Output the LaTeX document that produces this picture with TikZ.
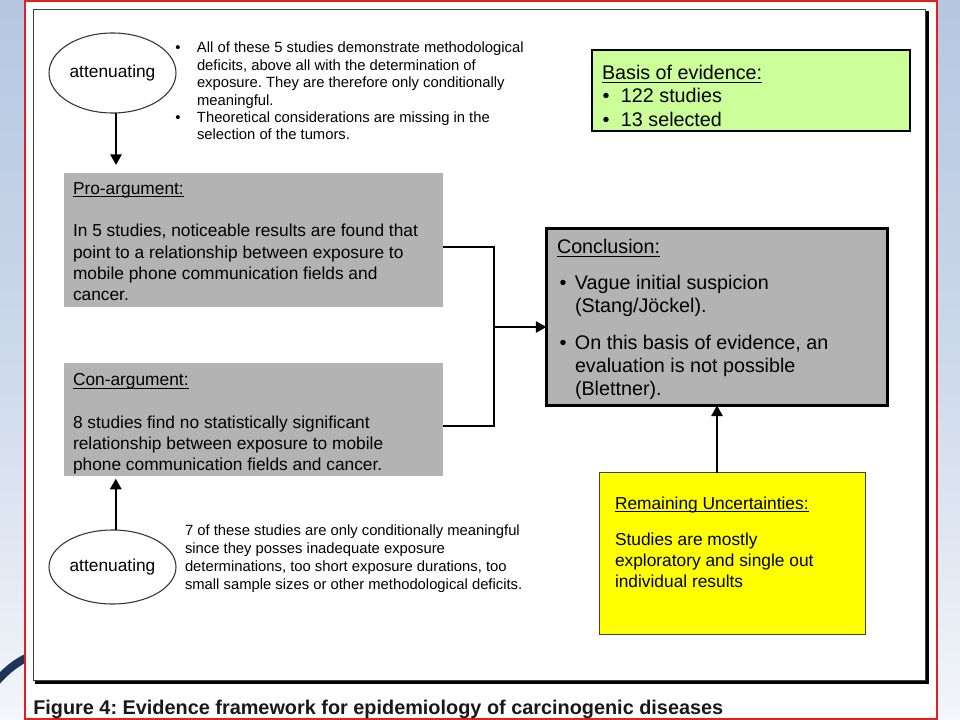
\documentclass[tikz,border=0pt]{standalone}
\usepackage{fontspec}
\setmainfont{Liberation Sans}
\usetikzlibrary{arrows.meta,shapes.geometric,calc}
\definecolor{boxgray}{RGB}{179,179,179}
\definecolor{basisgreen}{RGB}{204,255,153}
\definecolor{uncyellow}{RGB}{255,255,0}
\definecolor{framered}{RGB}{227,30,36}
\definecolor{bgtop}{RGB}{181,199,225}
\definecolor{bgmid}{RGB}{205,217,235}
\definecolor{bgbot}{RGB}{243,246,250}
\definecolor{navyarc}{RGB}{30,52,88}
\newcommand{\myul}[1]{\setbox0\hbox{#1}\rlap{\rule[-0.2em]{\wd0}{0.07em}}\box0}
\newcommand{\setfs}[2]{\fontsize{#1}{#2}\selectfont}
\frenchspacing
\begin{document}
\begin{tikzpicture}[x=0.75pt,y=-0.75pt,
  box/.style={rectangle, inner sep=0pt, outer sep=0pt, anchor=north west},
  txt/.style={inner sep=0pt, outer sep=0pt, anchor=north west, align=left},
  ell/.style={ellipse, draw=black!80, line width=0.8pt, inner sep=0pt, minimum width=95.25pt, font=\setfs{13pt}{15pt}},
  arr/.style={line width=1.5pt, -{Triangle[length=8pt,width=8.5pt]}},
  link/.style={line width=1.1pt},
]
\useasboundingbox (0,0) rectangle (960,720);
\shade[top color=bgtop, bottom color=bgbot, middle color=bgmid] (0,0) rectangle (960,720);
\draw[navyarc, line width=6pt] (-4,682) .. controls (6,671) and (15,663) .. (30,656);
\draw[framered, line width=1.5pt, fill=white] (25,1) rectangle (936.5,718.5);
\draw[black!75, line width=0.75pt] (33.5,9.5) rectangle (925.5,680.5);
\draw[black, line width=2.25pt] (927,11) -- (927,682.5) -- (35,682.5);

% ellipses
\node[ell, minimum height=60pt] (att1) at (112.5,73) {attenuating};
\node[ell, minimum height=55.5pt] (att2) at (112.5,567) {attenuating};

% notes
\node[txt, font=\setfs{11.1pt}{13.05pt}] (note1) at (175.4,40.8) {\begin{tabular}{@{}l@{}l@{}}
\makebox[16.2pt][l]{•} & All of these 5 studies demonstrate methodological\\
 & deficits, above all with the determination of\\
 & exposure. They are therefore only conditionally\\
 & meaningful.\\
\makebox[16.2pt][l]{•} & Theoretical considerations are missing in the\\
 & selection of the tumors.
\end{tabular}};
\node[txt, font=\setfs{11.1pt}{13.5pt}] (note2) at (185,522.4) {\begin{tabular}{@{}l@{}}
7 of these studies are only conditionally meaningful\\
since they posses inadequate exposure\\
determinations, too short exposure durations, too\\
small sample sizes or other methodological deficits.
\end{tabular}};

% argument boxes
\node[box, fill=boxgray, minimum width=284.25pt, minimum height=100.5pt] (pro) at (64,173) {};
\node[txt, font=\setfs{13pt}{16pt}] (protext) at (73,179.1) {\begin{tabular}{@{}l@{}}
\myul{Pro-argument:}\\
\mbox{}\\
In 5 studies, noticeable results are found that\\
point to a relationship between exposure to\\
mobile phone communication fields and\\
cancer.
\end{tabular}};
\node[box, fill=boxgray, minimum width=284.25pt, minimum height=84.75pt] (con) at (64,363) {};
\node[txt, font=\setfs{13pt}{16pt}] (context) at (73,370.6) {\begin{tabular}{@{}l@{}}
\myul{Con-argument:}\\
\mbox{}\\
8 studies find no statistically significant\\
relationship between exposure to mobile\\
phone communication fields and cancer.
\end{tabular}};

% conclusion
\node[box, draw=black, line width=2.25pt, fill=boxgray, minimum width=255.75pt, minimum height=132.75pt] (conc) at (546.5,228.5) {};
\node[txt, font=\setfs{14.8pt}{17.25pt}] (conctext) at (557,237.4) {\begin{tabular}{@{}l@{}l@{}}
\multicolumn{2}{@{}l@{}}{\myul{Conclusion:}}\\[9.75pt]
\makebox[13.5pt][l]{\hspace{2pt}•} & Vague initial suspicion\\
 & (Stang/Jöckel).\\[10.5pt]
\makebox[13.5pt][l]{\hspace{2pt}•} & On this basis of evidence, an\\
 & evaluation is not possible\\
 & (Blettner).
\end{tabular}};

% basis
\node[box, draw=black, line width=1.5pt, fill=basisgreen, minimum width=238.5pt, minimum height=60.4pt] (basis) at (592,50) {};
\node[txt, font=\setfs{14.8pt}{17.6pt}] (basistext) at (602,62.7) {\begin{tabular}{@{}l@{}l@{}}
\multicolumn{2}{@{}l@{}}{\myul{Basis of evidence:}}\\
\makebox[14.25pt][l]{\hspace{0.4pt}•} & 122 studies\\
\makebox[14.25pt][l]{\hspace{0.4pt}•} & 13 selected
\end{tabular}};

% uncertainties
\node[box, draw=black!75, line width=0.75pt, fill=uncyellow, minimum width=199.5pt, minimum height=121.5pt] (unc) at (599.5,472.5) {};
\node[txt, font=\setfs{13pt}{15.75pt}] (unctext) at (615,494.3) {\begin{tabular}{@{}l@{}}
\myul{Remaining Uncertainties:}\\[11.25pt]
Studies are mostly\\
exploratory and single out\\
individual results
\end{tabular}};

% caption
\node[anchor=base west, inner sep=0pt, font=\bfseries\setfs{14.9pt}{18pt}, text=black!90] (caption) at (33,714) {Figure 4: Evidence framework for epidemiology of carcinogenic diseases};

% connectors
\coordinate (jp) at (494,247);
\coordinate (jc) at (494,426);
\coordinate (jm) at (494,327);
\draw[link] (pro.east |- jp) -- (jp) -- (jc) -- (con.east |- jc);
\draw[link, -{Triangle[length=8pt,width=8.5pt]}] (jm) -- (conc.west |- jm);
\draw[arr, shorten >=6pt] (att1.275) -- (att1.275 |- pro.north);
\draw[arr, shorten >=2pt] (att2.85) -- (att2.85 |- con.south);
\draw[arr] (unc.north -| conc.south) -- (conc.south);
\end{tikzpicture}
\end{document}
